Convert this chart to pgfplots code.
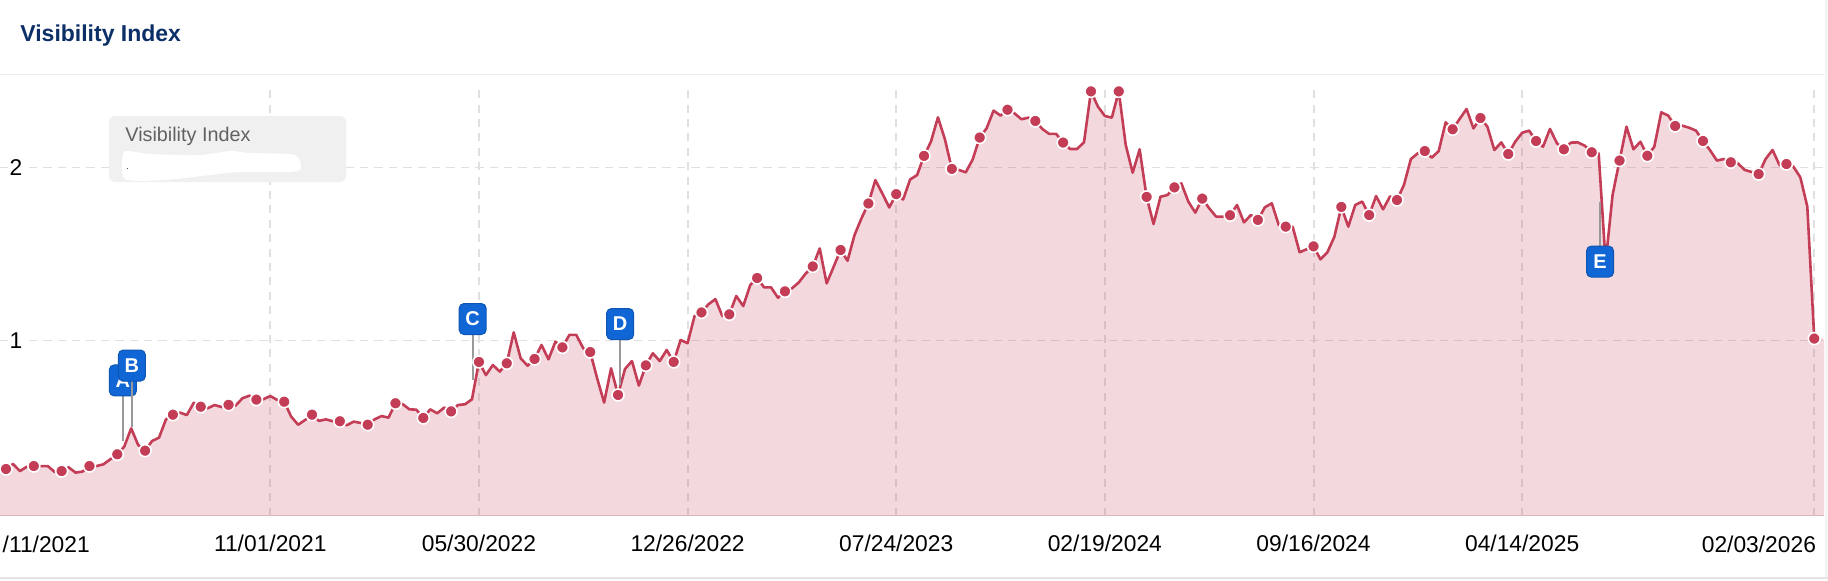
\documentclass[border=0pt]{standalone}
\usepackage{fontspec}
\setmainfont{Liberation Sans}
\usepackage{pgfplots}
\usepackage{pgfplotstable}
\pgfplotsset{compat=1.18}
\definecolor{lin}{HTML}{C43D57}
\definecolor{navy}{HTML}{0B2F66}
\definecolor{gridc}{HTML}{E0E0E0}
\definecolor{flagf}{HTML}{1166D6}
\definecolor{flagd}{HTML}{0D55B0}
\pgfplotstableread{
k v
-1 .269
0 .256
1 .285
2 .244
3 .269
4 .273
5 .273
6 .273
7 .239
8 .244
9 .266
10 .235
11 .241
12 .273
13 .273
14 .283
15 .312
16 .341
17 .385
18 .491
19 .395
20 .362
21 .418
22 .437
23 .543
24 .570
25 .582
26 .568
27 .639
28 .616
29 .607
30 .626
31 .614
32 .627
33 .622
34 .665
35 .680
36 .657
37 .659
38 .678
39 .655
40 .645
41 .559
42 .512
43 .539
44 .570
45 .534
46 .543
47 .532
48 .532
49 .509
50 .530
51 .522
52 .512
53 .543
54 .562
55 .553
56 .636
57 .632
58 .601
59 .599
60 .551
61 .601
62 .578
63 .611
64 .589
65 .626
66 .630
67 .659
68 .875
69 .799
70 .857
71 .819
72 .867
73 1.046
74 .896
75 .853
76 .892
77 .973
78 .890
79 .992
80 .959
81 1.031
82 1.031
83 .954
84 .932
85 .780
86 .640
87 .838
88 .684
89 .834
90 .880
91 .738
92 .855
93 .925
94 .880
95 .944
96 .875
97 1.002
98 .983
99 1.140
100 1.161
101 1.208
102 1.238
103 1.140
104 1.150
105 1.256
106 1.198
107 1.319
108 1.360
109 1.306
110 1.306
111 1.246
112 1.283
113 1.300
114 1.335
115 1.387
116 1.427
117 1.531
118 1.329
119 1.425
120 1.522
121 1.460
122 1.608
123 1.705
124 1.791
125 1.926
126 1.849
127 1.768
128 1.845
129 1.814
130 1.930
131 1.955
132 2.066
133 2.149
134 2.289
135 2.162
136 1.991
137 1.985
138 1.971
139 2.046
140 2.172
141 2.226
142 2.328
143 2.299
144 2.333
145 2.312
146 2.278
147 2.287
148 2.268
149 2.222
150 2.193
151 2.193
152 2.143
153 2.106
154 2.106
155 2.145
156 2.439
157 2.351
158 2.297
159 2.287
160 2.439
161 2.129
162 1.969
163 2.104
164 1.829
165 1.672
166 1.830
167 1.840
168 1.884
169 1.907
170 1.802
171 1.738
172 1.819
173 1.763
174 1.715
175 1.715
176 1.723
177 1.782
178 1.682
179 1.724
180 1.696
181 1.769
182 1.792
183 1.667
184 1.657
185 1.657
186 1.509
187 1.526
188 1.543
189 1.468
190 1.509
191 1.599
192 1.771
193 1.657
194 1.782
195 1.802
196 1.724
197 1.834
198 1.757
199 1.832
200 1.811
201 1.898
202 2.048
203 2.081
204 2.094
205 2.056
206 2.094
207 2.260
208 2.220
209 2.279
210 2.337
211 2.225
212 2.285
213 2.235
214 2.100
215 2.144
216 2.077
217 2.148
218 2.200
219 2.212
220 2.152
221 2.119
222 2.222
223 2.139
224 2.104
225 2.143
226 2.144
227 2.125
228 2.087
229 2.081
230 1.45
231 1.840
232 2.039
233 2.235
234 2.104
235 2.148
236 2.067
237 2.119
238 2.318
239 2.299
240 2.239
241 2.241
242 2.229
243 2.212
244 2.152
245 2.100
246 2.039
247 2.048
248 2.029
249 2.023
250 1.985
251 1.973
252 1.961
253 2.048
254 2.100
255 2.013
256 2.019
257 2.004
258 1.942
259 1.773
260 1.010
261 1.010
}\vis
\newcommand{\flag}[5]{% letter, k, stem from, stem to, box centre
  \draw[draw=black!40, line width=1pt] (axis cs:#2,#3) -- (axis cs:#2,#4);
  \node[draw=flagd, fill=flagf, rounded corners=2.4pt, line width=.5pt, inner sep=0pt,
        minimum width=13.5pt, minimum height=15.5pt, text=white,
        font=\fontsize{10}{10}\selectfont\bfseries] at (axis cs:#2,#5) {#1};}
\begin{document}
\begin{tikzpicture}
\useasboundingbox (0,-32.15pt) rectangle (914pt,257.85pt);
\begin{axis}[
  at={(0,0)}, anchor=south west, scale only axis,
  width=912pt, height=212.85pt,
  xmin=-0.863, xmax=261.4, ymin=-0.014, ymax=2.447,
  clip=false,
  axis line style={draw=none},
  tick style={draw=none},
  major tick length=0pt,
  xtick={38,68,98,128,158,188,218,260},
  xticklabels={11/01/2021,05/30/2022,12/26/2022,07/24/2023,02/19/2024,09/16/2024,04/14/2025,},
  ytick={1,2},
  yticklabels={1,2},
  yticklabel style={anchor=center, xshift=8pt, fill=white, inner sep=1pt},
  xticklabel style={anchor=center, yshift=-14pt},
  tick label style={font=\fontsize{11.4}{13}\selectfont},
  /pgf/number format/assume math mode=true,
  xmajorgrids, ymajorgrids,
  x grid style={draw=gridc, line width=1pt, dash pattern=on 4pt off 3.2pt},
  y grid style={draw=gridc, line width=.55pt, dash pattern=on 4.2pt off 3pt},
]
\addplot[draw=none, fill=lin, fill opacity=.2] table[x=k,y=v] {\vis}
   -- (axis cs:261.4,1.01) -- (axis cs:261.4,-0.014) -- (axis cs:-1,-0.014) -- cycle;
\addplot[lin, line width=1.3pt, line join=round, mark=*, mark repeat=4, mark phase=2,
   mark size=3pt, mark options={fill=lin, draw=white, line width=.8pt, solid}]
   table[x=k,y=v] {\vis};
\draw[draw=lin!25!gridc, line width=.5pt] (axis cs:-0.863,-0.014) -- (axis cs:261.4,-0.014);
\node[anchor=east, inner sep=0pt, font=\fontsize{11.4}{13}\selectfont] at (axis cs:12.1,-0.178) {/11/2021};
\node[anchor=east, inner sep=0pt, font=\fontsize{11.4}{13}\selectfont] at (axis cs:260.3,-0.178) {02/03/2026};
\flag{A}{16.8}{.678}{.418}{.768}
\flag{B}{18.1}{.765}{.499}{.854}
\flag{C}{67.1}{1.031}{.771}{1.123}
\flag{D}{88.3}{1.002}{.742}{1.094}
\flag{E}{229.2}{1.545}{1.799}{1.455}
\end{axis}
\begin{scope}[x=.5pt,y=-.5pt,yshift=257.85pt]
\fill[gray!8] (1825,0) rectangle (1828,580);
\draw[draw=black!8, line width=.6pt] (0,74.5) -- (1825,74.5);
\draw[draw=black!10, line width=1pt] (0,578) -- (1828,578);
\node[anchor=west, inner sep=0pt, text=navy, font=\fontsize{11.5}{13}\selectfont\bfseries] at (20,36) {Visibility Index};
\fill[black!6, rounded corners=3pt] (109,116) rectangle (346,182);
\node[anchor=west, inner sep=0pt, text=black!62, font=\fontsize{9.9}{12}\selectfont] at (125,136) {Visibility Index};
\fill[white] plot[smooth cycle, tension=.4] coordinates {(124,152) (150,154) (200,155) (230,151) (250,153) (295,155) (298,171) (240,172) (210,175) (165,180) (125,179)};
\fill[black!70] (126.5,167.5) rectangle (127.5,168.5);
\end{scope}
\end{tikzpicture}
\end{document}
